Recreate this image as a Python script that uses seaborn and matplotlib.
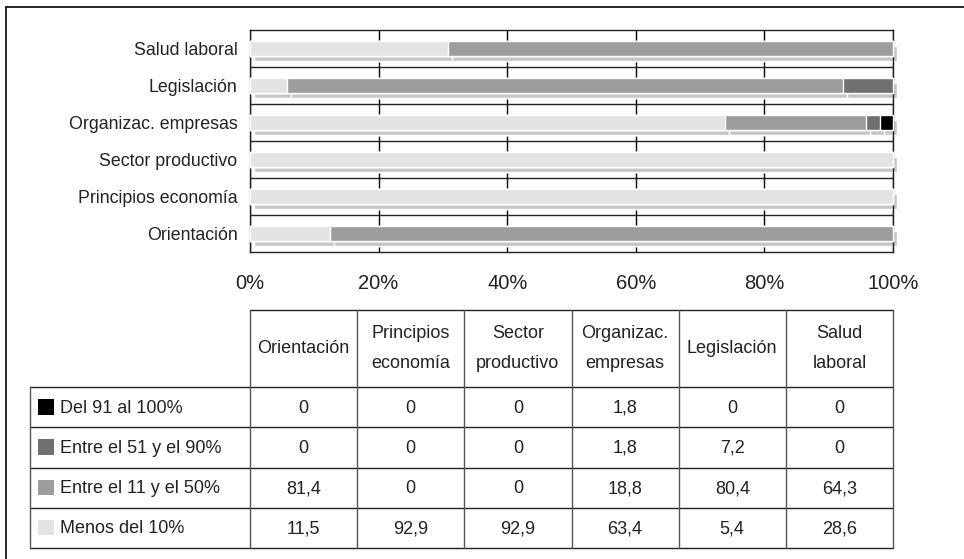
import numpy as np
import pandas as pd
import seaborn as sns
import matplotlib.pyplot as plt
from matplotlib.transforms import ScaledTranslation

# ================== DATA ==================
categorias = ["Orientación", "Principios economía", "Sector productivo",
              "Organizac. empresas", "Legislación", "Salud laboral"]
cabeceras = ["Orientación", "Principios\neconomía", "Sector\nproductivo",
             "Organizac.\nempresas", "Legislación", "Salud\nlaboral"]

series = ["Del 91 al 100%", "Entre el 51 y el 90%", "Entre el 11 y el 50%", "Menos del 10%"]
del_91_100 = [0, 0, 0, 1.8, 0, 0]
entre_51_90 = [0, 0, 0, 1.8, 7.2, 0]
entre_11_50 = [81.4, 0, 0, 18.8, 80.4, 64.3]
menos_10 = [11.5, 92.9, 92.9, 63.4, 5.4, 28.6]

colores = ["#000000", "#707070", "#9d9d9d", "#e3e3e3"]
sombra = "#c6c6c6"
ticks_x = [0, 20, 40, 60, 80, 100]

# ================== STYLE ==================
sns.set_style("white")
plt.rcParams["font.family"] = ["Liberation Sans", "DejaVu Sans"]
FS = 13
FS_Y = 12.8
FS_X = 14.5
TXT = "#222222"
LINE = "#222222"

W, H = 964, 559
fig = plt.figure(figsize=(W / 100, H / 100), dpi=100)

# long-form table, normalizado a 100% por categoria
valores = [del_91_100, entre_51_90, entre_11_50, menos_10]
df = pd.DataFrame({s: v for s, v in zip(series, valores)}, index=categorias)
pct = df.div(df.sum(axis=1), axis=0) * 100
# acumulado desde la izquierda (Menos del 10% primero)
stack_order = series[::-1]
cum = pct[stack_order].cumsum(axis=1)
long = cum.reset_index(names="categoria").melt(id_vars="categoria", var_name="serie", value_name="cum")

orden_barras = categorias[::-1]

# ================== BARS ==================
ax = fig.add_axes([250 / W, 1 - 252 / H, (893 - 250) / W, (252 - 30) / H])
offset = ax.transData + ScaledTranslation(4 / 100, -5 / 100, fig.dpi_scale_trans)

# sombra
for s in series:
    sub = long[long["serie"] == s]
    sns.barplot(data=sub, x="cum", y="categoria", order=orden_barras, orient="h",
                color=sombra, saturation=1, width=0.38, errorbar=None,
                edgecolor="white", linewidth=1, ax=ax, transform=offset,
                clip_on=False, zorder=2)

# barras apiladas (de la serie mas a la derecha a la mas a la izquierda)
for s, c in zip(series, colores):
    sub = long[long["serie"] == s]
    sns.barplot(data=sub, x="cum", y="categoria", order=orden_barras, orient="h",
                color=c, saturation=1, width=0.38, errorbar=None,
                edgecolor="white", linewidth=1, ax=ax, clip_on=False, zorder=3)

ax.set_xlim(0, 100)
ax.set_ylim(len(orden_barras) - 0.5, -0.5)
ax.set_xticks(ticks_x)
ax.set_xticklabels([f"{t}%" for t in ticks_x], fontsize=FS_X, color=TXT)
ax.set_yticks(range(len(orden_barras)))
ax.set_yticklabels(orden_barras, fontsize=FS_Y, color=TXT)
ax.set_xlabel("")
ax.set_ylabel("")
ax.tick_params(axis="x", length=5, width=1, color="black", pad=11, direction="out")
ax.tick_params(axis="y", length=0, pad=9)
ax.set_axisbelow(True)
ax.grid(axis="x", color="black", linewidth=1, zorder=0)
ax.grid(axis="y", visible=False)
for k in range(len(orden_barras) - 1):
    ax.axhline(k + 0.5, color=LINE, linewidth=1, zorder=1)
for sp in ax.spines.values():
    sp.set_color(LINE)
    sp.set_linewidth(1)
    sp.set_visible(True)

# ================== TABLE ==================
tab = fig.add_axes([0, 0, 1, 1])
tab.set_xlim(0, W)
tab.set_ylim(H, 0)
tab.axis("off")

# marco exterior
tab.plot([6, 6], [7, H], color="black", lw=1.2)
tab.plot([6, W], [7, 7], color="black", lw=1.2)

x0, x_leg = 250, 30
col_w = (893 - 250) / len(categorias)
y_head_top, y_head_bot = 310, 387
row_h = 40.25
filas_y = [y_head_bot + i * row_h for i in range(len(series) + 1)]

# lineas
tab.plot([x0, 893], [y_head_top, y_head_top], color=LINE, lw=1)
for y in filas_y:
    tab.plot([x_leg, 893], [y, y], color=LINE, lw=1)
for i in range(len(categorias) + 1):
    xc = x0 + i * col_w
    tab.plot([xc, xc], [y_head_top, filas_y[-1]], color="#555555", lw=1)
tab.plot([x_leg, x_leg], [filas_y[0], filas_y[-1]], color="#555555", lw=1)

# cabeceras
for i, h in enumerate(cabeceras):
    xc = x0 + (i + 0.5) * col_w
    yc = (y_head_top + y_head_bot) / 2
    tab.text(xc, yc, h, ha="center", va="center", fontsize=FS, color=TXT, linespacing=1.95)

# filas de series
for r, (s, c, vals) in enumerate(zip(series, colores, valores)):
    yc = (filas_y[r] + filas_y[r + 1]) / 2
    tab.add_patch(plt.Rectangle((38, yc - 8), 15.5, 15.5, facecolor=c, edgecolor="none"))
    tab.text(60, yc + 1, s, ha="left", va="center", fontsize=FS, color=TXT)
    for i, v in enumerate(vals):
        xc = x0 + (i + 0.5) * col_w
        txt = f"{v:g}".replace(".", ",")
        tab.text(xc, yc + 1, txt, ha="center", va="center", fontsize=FS, color=TXT)

fig.savefig("out.png", dpi=100)
